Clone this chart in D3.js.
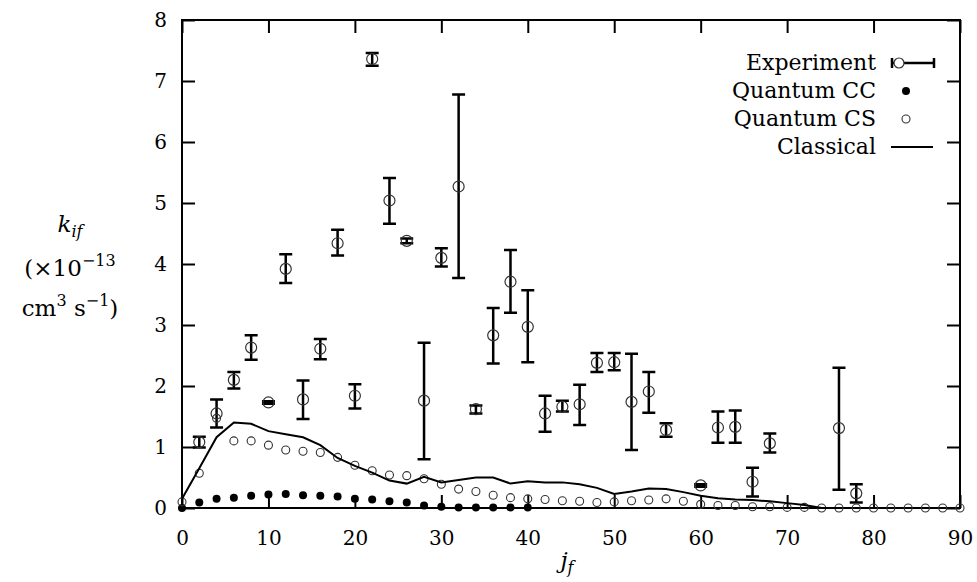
<!DOCTYPE html>
<html>
<head>
<meta charset="utf-8">
<script src="https://cdn.jsdelivr.net/npm/d3@7"></script>
<style>
  body { margin: 0; background: #fff; }
</style>
</head>
<body>
<div id="vis"></div>
<script>
// experiment: j_f, rate, error bar low / high
var expJ  = [2, 4, 6, 8, 10, 12, 14, 16, 18, 20, 22, 24, 26, 28, 30, 32, 34, 36, 38, 40,
             42, 44, 46, 48, 50, 52, 54, 56, 60, 62, 64, 66, 68, 76, 78];
var expK  = [1.08, 1.55, 2.10, 2.63, 1.73, 3.92, 1.78, 2.61, 4.34, 1.84, 7.36, 5.04, 4.38, 1.76, 4.10,
             5.27, 1.62, 2.83, 3.71, 2.97, 1.55, 1.66, 1.70, 2.38, 2.39, 1.74, 1.91, 1.28, 0.37, 1.32,
             1.33, 0.43, 1.06, 1.31, 0.24];
var expLo = [0.99, 1.32, 1.96, 2.43, 1.71, 3.69, 1.46, 2.44, 4.14, 1.63, 7.25, 4.66, 4.34, 0.80, 3.96,
             3.77, 1.55, 2.37, 3.20, 2.39, 1.25, 1.58, 1.36, 2.23, 2.26, 0.95, 1.56, 1.17, 0.35, 1.07,
             1.07, 0.19, 0.91, 0.30, 0.09];
var expHi = [1.17, 1.78, 2.23, 2.83, 1.75, 4.16, 2.09, 2.77, 4.56, 2.03, 7.46, 5.41, 4.42, 2.71, 4.26,
             6.78, 1.68, 3.28, 4.23, 3.57, 1.84, 1.76, 2.02, 2.54, 2.54, 2.53, 2.23, 1.39, 0.39, 1.58,
             1.60, 0.66, 1.22, 2.30, 0.39];

// quantum CC, j_f = 0, 2, ... 40
var ccK = [0.00, 0.09, 0.15, 0.17, 0.20, 0.22, 0.23, 0.21, 0.20, 0.19, 0.15, 0.14, 0.11, 0.09,
           0.04, 0.02, 0.01, 0.01, 0.01, 0.01, 0.01];

// quantum CS, j_f = 0, 2, ... 90
var csK = [0.10, 0.57, 1.47, 1.10, 1.10, 1.03, 0.95, 0.93, 0.91, 0.83, 0.70, 0.61, 0.54, 0.53,
           0.48, 0.39, 0.31, 0.27, 0.21, 0.17, 0.15, 0.14, 0.12, 0.11, 0.09, 0.10, 0.12, 0.13,
           0.15, 0.11, 0.06, 0.04, 0.04, 0.02, 0.02, 0.01, 0.01, 0, 0, 0, 0, 0, 0, 0, 0, 0];

// classical, j_f = 0, 2, ... 76
var clK = [0.15, 0.65, 1.16, 1.40, 1.38, 1.26, 1.21, 1.16, 1.03, 0.82, 0.69, 0.58, 0.45, 0.40,
           0.51, 0.42, 0.46, 0.50, 0.50, 0.40, 0.44, 0.42, 0.42, 0.39, 0.33, 0.23, 0.27, 0.32,
           0.31, 0.26, 0.20, 0.16, 0.14, 0.13, 0.11, 0.08, 0.05, 0.00, 0.00];

var xTicks = [0, 10, 20, 30, 40, 50, 60, 70, 80, 90];
var yTicks = [0, 1, 2, 3, 4, 5, 6, 7, 8];
var legendLabels = ["Experiment", "Quantum CC", "Quantum CS", "Classical"];

var serif = "'DejaVu Serif', 'Liberation Serif', serif";

var opts = {
  "width": 977,
  "height": 582,
  "left": 182,
  "right": 960,
  "top": 20,
  "bottom": 508,
  "tick": 13
};

var x = d3.scaleLinear().domain([0, 90]).range([opts.left, opts.right]);
var y = d3.scaleLinear().domain([0, 8]).range([opts.bottom, opts.top]);

var svg = d3.select("#vis").append("svg")
  .attr("width", opts.width)
  .attr("height", opts.height)
  .attr("font-family", serif);

// axes, ticks pointing inward
function style_axis(g) {
  g.attr("font-family", serif).attr("font-size", 20);
  g.select(".domain").remove();
  g.selectAll(".tick line").attr("stroke", "#000").attr("stroke-width", 2);
}

svg.append("g")
  .attr("transform", "translate(0," + opts.bottom + ")")
  .call(d3.axisBottom(x).tickValues(xTicks).tickSize(-opts.tick).tickPadding(23))
  .call(style_axis);

svg.append("g")
  .attr("transform", "translate(0," + opts.top + ")")
  .call(d3.axisTop(x).tickValues(xTicks).tickSize(-opts.tick).tickFormat(""))
  .call(style_axis);

svg.append("g")
  .attr("transform", "translate(" + opts.left + ",0)")
  .call(d3.axisLeft(y).tickValues(yTicks).tickSize(-opts.tick).tickPadding(15))
  .call(style_axis);

svg.append("g")
  .attr("transform", "translate(" + opts.right + ",0)")
  .call(d3.axisRight(y).tickValues(yTicks).tickSize(-opts.tick).tickFormat(""))
  .call(style_axis);

svg.append("rect")
  .attr("x", opts.left)
  .attr("y", opts.top)
  .attr("width", opts.right - opts.left)
  .attr("height", opts.bottom - opts.top)
  .attr("fill", "none")
  .attr("stroke", "#000")
  .attr("stroke-width", 2);

// experiment with error bars
var expData = expJ.map(function(j, i) {
  return { "j": j, "k": expK[i], "lo": expLo[i], "hi": expHi[i] };
});

var bars = svg.append("g").attr("stroke", "#000").attr("stroke-width", 2.5);
bars.selectAll(".bar")
  .data(expData)
  .enter()
  .append("path")
  .attr("fill", "none")
  .attr("d", function(d) {
    var cx = x(d.j), w = 6.5;
    return "M" + cx + "," + y(d.lo) + "V" + y(d.hi) +
      "M" + (cx - w) + "," + y(d.hi) + "H" + (cx + w) +
      "M" + (cx - w) + "," + y(d.lo) + "H" + (cx + w);
  });

svg.append("g").selectAll("circle")
  .data(expData)
  .enter()
  .append("circle")
  .attr("cx", function(d) { return x(d.j); })
  .attr("cy", function(d) { return y(d.k); })
  .attr("r", 5.5)
  .attr("fill", "none")
  .attr("stroke", "#333")
  .attr("stroke-width", 1.2);

// quantum CC
svg.append("g").selectAll("circle")
  .data(ccK)
  .enter()
  .append("circle")
  .attr("cx", function(d, i) { return x(2 * i); })
  .attr("cy", function(d) { return y(d); })
  .attr("r", 4)
  .attr("fill", "#000");

// quantum CS
svg.append("g").selectAll("circle")
  .data(csK)
  .enter()
  .append("circle")
  .attr("cx", function(d, i) { return x(2 * i); })
  .attr("cy", function(d) { return y(d); })
  .attr("r", 4)
  .attr("fill", "none")
  .attr("stroke", "#333")
  .attr("stroke-width", 1.1);

// classical
var line = d3.line()
  .x(function(d, i) { return x(2 * i); })
  .y(function(d) { return y(d); });

svg.append("path")
  .datum(clK)
  .attr("d", line)
  .attr("fill", "none")
  .attr("stroke", "#000")
  .attr("stroke-width", 2);

// legend
var lg = svg.append("g");
var rowY = [63, 91, 119, 147];

lg.selectAll("text")
  .data(legendLabels)
  .enter()
  .append("text")
  .attr("x", 876)
  .attr("y", function(d, i) { return rowY[i] + 7; })
  .attr("text-anchor", "end")
  .attr("font-size", 22)
  .text(function(d) { return d; });

lg.append("path")
  .attr("d", "M892," + rowY[0] + "H934M892," + (rowY[0] - 5) + "V" + (rowY[0] + 5) +
    "M934," + (rowY[0] - 5) + "V" + (rowY[0] + 5))
  .attr("stroke", "#000").attr("stroke-width", 2.5).attr("fill", "none");
lg.append("circle").attr("cx", 899).attr("cy", rowY[0]).attr("r", 5)
  .attr("fill", "#fff").attr("stroke", "#333").attr("stroke-width", 1.2);
lg.append("circle").attr("cx", 906).attr("cy", rowY[1]).attr("r", 4).attr("fill", "#000");
lg.append("circle").attr("cx", 906).attr("cy", rowY[2]).attr("r", 4)
  .attr("fill", "none").attr("stroke", "#333").attr("stroke-width", 1.1);
lg.append("path").attr("d", "M891," + rowY[3] + "H933")
  .attr("stroke", "#000").attr("stroke-width", 2);

// axis labels
var yl = svg.append("g").attr("font-size", 23).attr("text-anchor", "middle");
var t1 = yl.append("text").attr("x", 70).attr("y", 232);
t1.append("tspan").attr("font-style", "italic").text("k");
t1.append("tspan").attr("font-style", "italic").attr("font-size", 16).attr("dy", 5).text("if");

var t2 = yl.append("text").attr("x", 70).attr("y", 276);
t2.append("tspan").text("(×10");
t2.append("tspan").attr("font-size", 16).attr("dy", -10).text("−13");

var t3 = yl.append("text").attr("x", 70).attr("y", 316);
t3.append("tspan").text("cm");
t3.append("tspan").attr("font-size", 16).attr("dy", -10).text("3");
t3.append("tspan").attr("dy", 10).text(" s");
t3.append("tspan").attr("font-size", 16).attr("dy", -10).text("−1");
t3.append("tspan").attr("dy", 10).text(")");

var xl = svg.append("text").attr("x", 567).attr("y", 568).attr("font-size", 23)
  .attr("text-anchor", "middle");
xl.append("tspan").attr("font-style", "italic").text("j");
xl.append("tspan").attr("font-style", "italic").attr("font-size", 16).attr("dy", 5).text("f");
</script>
</body>
</html>
